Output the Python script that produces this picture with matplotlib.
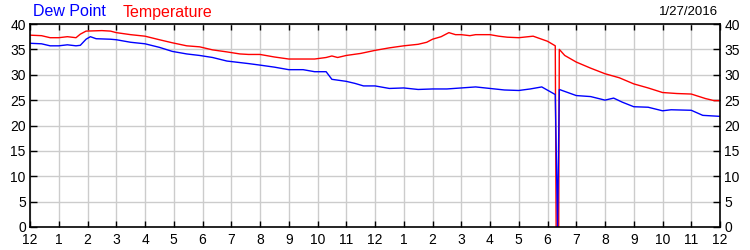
import matplotlib
matplotlib.use("Agg")
import matplotlib.pyplot as plt

# hours since midnight, readings in degrees
temp_hours = [0.0, 0.4, 0.7, 1.0, 1.3, 1.6, 1.75, 1.95, 2.5, 2.8, 3.0, 3.5, 4.0, 4.5,
              4.95, 5.45, 5.9, 6.35, 6.85, 7.3, 7.6, 8.0, 8.5, 9.0, 9.5, 9.9, 10.3,
              10.5, 10.7, 11.0, 11.5, 12.0, 12.5, 13.0, 13.5, 13.8, 14.0, 14.3,
              14.57, 14.8, 15.0, 15.3, 15.5, 16.0, 16.3, 16.6, 17.0, 17.5, 18.0,
              18.27, 18.3, 18.39, 18.41, 18.6, 19.0, 19.5, 20.0, 20.5, 21.0, 21.5,
              22.0, 22.5, 23.0, 23.5, 23.8, 24.0]
temperature = [37.8, 37.7, 37.3, 37.3, 37.5, 37.3, 38.0, 38.6, 38.7, 38.6, 38.3, 37.9,
               37.6, 36.9, 36.3, 35.7, 35.5, 34.9, 34.5, 34.1, 34.0, 34.0, 33.5, 33.1,
               33.1, 33.1, 33.4, 33.7, 33.4, 33.8, 34.2, 34.8, 35.3, 35.7, 36.0, 36.4,
               37.0, 37.5, 38.3, 37.9, 37.9, 37.7, 37.9, 37.9, 37.6, 37.4, 37.3, 37.6,
               36.6, 35.7, 0.0, 0.0, 35.0, 33.8, 32.5, 31.3, 30.2, 29.4, 28.2, 27.4,
               26.5, 26.3, 26.2, 25.3, 24.9, 24.9]

dew_hours = [0.0, 0.4, 0.7, 1.0, 1.3, 1.6, 1.75, 1.95, 2.1, 2.3, 2.8, 3.0, 3.5, 4.0,
             4.5, 4.95, 5.45, 5.9, 6.35, 6.85, 7.3, 7.6, 8.0, 8.5, 9.0, 9.5, 9.9,
             10.3, 10.5, 11.0, 11.3, 11.6, 12.0, 12.5, 13.0, 13.5, 14.0, 14.5, 15.0,
             15.5, 16.0, 16.5, 17.0, 17.4, 17.8, 18.27, 18.35, 18.41, 19.0, 19.5,
             20.0, 20.3, 20.6, 21.0, 21.5, 22.0, 22.3, 23.0, 23.4, 24.0]
dew_point = [36.2, 36.1, 35.7, 35.7, 35.9, 35.7, 35.8, 37.0, 37.5, 37.1, 37.0, 36.9,
             36.4, 36.1, 35.4, 34.6, 34.1, 33.8, 33.4, 32.7, 32.4, 32.2, 31.9, 31.5,
             31.0, 31.0, 30.6, 30.6, 29.1, 28.7, 28.3, 27.8, 27.8, 27.3, 27.4, 27.1,
             27.2, 27.2, 27.4, 27.6, 27.3, 27.0, 26.9, 27.2, 27.6, 26.1, 0.0, 27.1,
             25.9, 25.7, 25.0, 25.4, 24.6, 23.7, 23.6, 22.9, 23.1, 23.0, 22.0, 21.8]

hour_ticks = list(range(25))
hour_labels = ["12"] + [str(h) for h in range(1, 12)] + ["12"] + [str(h) for h in range(1, 12)] + ["12"]
y_ticks = [0, 5, 10, 15, 20, 25, 30, 35, 40]
date_text = "1/27/2016"

plt.rcParams['font.family'] = ['Liberation Sans', 'DejaVu Sans']

fig = plt.figure(figsize=(7.5, 2.5), dpi=100)
ax = fig.add_axes([30 / 750, 1 - 227 / 250, 690 / 750, 203 / 250])

ax.plot(temp_hours, temperature, color="#ff0000", lw=1.0)
ax.plot(dew_hours, dew_point, color="#0000ff", lw=1.0)

ax.set_xlim(0, 24)
ax.set_ylim(0, 40)
ax.set_xticks(hour_ticks)
ax.set_xticklabels(hour_labels)
ax.set_yticks(y_ticks)
ax.grid(True, color="#cccccc", lw=1.0)
ax.set_axisbelow(True)

ax.tick_params(axis="x", direction="in", top=True, bottom=True, length=4,
               labelsize=10, pad=4.5, width=1)
ax.tick_params(axis="y", direction="in", left=True, right=True, labelleft=True,
               labelright=True, length=5, labelsize=10, pad=3, width=1)
for s in ax.spines.values():
    s.set_linewidth(1.2)

fig.text(33 / 750, 1 - 12 / 250, "Dew Point", color="#0000ff", fontsize=11.5, va="center")
fig.text(123 / 750, 1 - 12 / 250, "Temperature", color="#ff0000", fontsize=11.5, va="center")
fig.text(718 / 750, 1 - 12 / 250, date_text, color="black", fontsize=9.5, va="center", ha="right")

fig.savefig("out.png", dpi=100)
